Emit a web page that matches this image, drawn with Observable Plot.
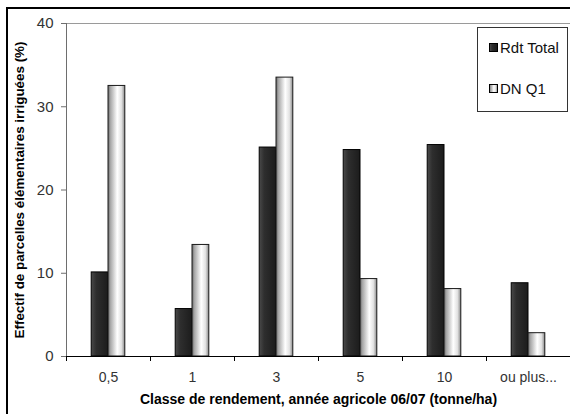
<!DOCTYPE html>
<html><head><meta charset="utf-8">
<script src="https://cdn.jsdelivr.net/npm/d3@7"></script>
<script src="https://cdn.jsdelivr.net/npm/@observablehq/plot@0.6"></script>
<style>
body{margin:0;background:#fff;font-family:"Liberation Sans",Arial,sans-serif;}
#wrap{position:relative;width:570px;height:414px;overflow:hidden;background:#fff;}
#wrap svg{position:absolute;left:0;top:0;}
#frame{position:absolute;left:6px;top:7px;width:600px;height:500px;border-left:2px solid #000;border-top:2px solid #000;pointer-events:none;}
#legend{position:absolute;left:477px;top:27px;width:89px;height:83px;border:1px solid #333;background:#fff;font-size:15px;color:#111;}
.item{position:absolute;left:11px;display:flex;align-items:center;white-space:nowrap;}
.sw{display:inline-block;width:7px;height:7px;border:1px solid #000;margin-right:2px;}
</style></head>
<body>
<div id="wrap"></div>
<script>
const categories = ["0,5", "1", "3", "5", "10", "ou plus..."];
const rdtTotal = [10.1, 5.7, 25.1, 24.8, 25.4, 8.8];
const dnQ1 = [32.5, 13.4, 33.5, 9.3, 8.1, 2.8];
const seriesNames = ["Rdt Total", "DN Q1"];
const yTicks = [0, 10, 20, 30, 40];
const xTitle = "Classe de rendement, année agricole 06/07 (tonne/ha)";
const yTitle = "Effectif de parcelles élémentaires irriguées (%)";

const table = categories.map((c, i) => ({category: c, rdt: rdtTotal[i], dn: dnQ1[i]}));

const plot = Plot.plot({
  width: 570,
  height: 414,
  marginLeft: 66,
  marginRight: 0,
  marginTop: 23,
  marginBottom: 58,
  style: {background: "transparent", fontFamily: "Liberation Sans, Arial, sans-serif"},
  x: {domain: categories, padding: 0, axis: null},
  y: {domain: [0, 40], axis: null},
  marks: [
    Plot.ruleY([40], {stroke: "#9a9a9a"}),
    Plot.barY(table, {x: "category", y: "rdt", fill: "url(#gDark)", stroke: "#000", strokeWidth: 1, insetLeft: 25.2, insetRight: 42}),
    Plot.barY(table, {x: "category", y: "dn", fill: "url(#gLight)", stroke: "#1a1a1a", strokeWidth: 1, insetLeft: 42, insetRight: 25.2}),
    Plot.frame({anchor: "left", stroke: "#6e6e6e"}),
    Plot.ruleY([0], {stroke: "#000"}),
    Plot.axisY({ticks: yTicks, tickSize: 5, tickPadding: 8, fontSize: 15, color: "#333", stroke: "#6e6e6e", tickFormat: d => String(d), label: null}),
    Plot.axisX({tickSize: 5, dx: -42, tickFormat: () => "", stroke: "#000", label: null}),
    Plot.axisX({tickSize: 0, tickPadding: 16, fontSize: 14, color: "#333", label: null}),
    Plot.text([xTitle], {frameAnchor: "bottom", dy: 47, fontWeight: "bold", fontSize: 14, fill: "#000"}),
    Plot.text([yTitle], {frameAnchor: "left", textAnchor: "middle", rotate: -90, dx: -47, fontWeight: "bold", fontSize: 13.4, fill: "#000"})
  ]
});

d3.select(plot).insert("defs", ":first-child").html(`
  <linearGradient id="gDark" x1="0" x2="1" y1="0" y2="0">
    <stop offset="0" stop-color="#4a4a4a"/>
    <stop offset="0.3" stop-color="#2e2e2e"/>
    <stop offset="1" stop-color="#1c1c1c"/>
  </linearGradient>
  <linearGradient id="gLight" x1="0" x2="1" y1="0" y2="0">
    <stop offset="0" stop-color="#6a6a6a"/>
    <stop offset="0.15" stop-color="#a8a8a8"/>
    <stop offset="0.55" stop-color="#ffffff"/>
    <stop offset="0.8" stop-color="#e2e2e2"/>
    <stop offset="1" stop-color="#8a8a8a"/>
  </linearGradient>`);

const wrap = document.getElementById("wrap");
wrap.appendChild(plot);

const legend = document.createElement("div");
legend.id = "legend";
const swatchBg = [
  "linear-gradient(to right,#4a4a4a,#2e2e2e 30%,#1c1c1c)",
  "linear-gradient(to right,#8a8a8a,#fff 55%,#e2e2e2 80%,#9a9a9a)"
];
const tops = [11, 52];
seriesNames.forEach((name, i) => {
  const it = document.createElement("div");
  it.className = "item";
  it.style.top = tops[i] + "px";
  it.innerHTML = `<span class="sw" style="background:${swatchBg[i]}"></span><span>${name}</span>`;
  legend.appendChild(it);
});
wrap.appendChild(legend);

const frame = document.createElement("div");
frame.id = "frame";
wrap.appendChild(frame);
</script>
</body></html>
